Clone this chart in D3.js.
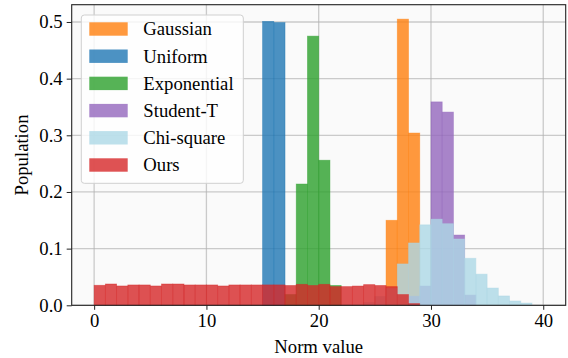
<!DOCTYPE html>
<html>
<head>
<meta charset="utf-8">
<script src="https://cdn.jsdelivr.net/npm/d3@7"></script>
<style>
  html, body { margin: 0; padding: 0; background: #fff; }
  svg { display: block; }
  svg text { font-family: "Liberation Serif", "Times New Roman", serif; }
</style>
</head>
<body>
<script>
// histogram heights per unit-width bin; each series starts at its own bin
const gaussianStart = 26;
const gaussian = [0.150, 0.505, 0.304];
const uniformStart = 15;
const uniform = [0.501, 0.499];
const exponentialStart = 17;
const exponential = [0.019, 0.214, 0.475, 0.256, 0.035];
const studentStart = 28;
const student = [0.016, 0.034, 0.359, 0.341, 0.124, 0.018];
const chiStart = 24;
const chiSquare = [0.005, 0.0155, 0.03, 0.073, 0.110, 0.142, 0.152, 0.144, 0.117, 0.083, 0.055, 0.0305, 0.0165, 0.0076, 0.004];
const oursStart = 0;
const ours = [0.0353, 0.0376, 0.0341, 0.0359, 0.0359, 0.0341, 0.0376, 0.0376, 0.0359, 0.0359,
              0.0359, 0.0341, 0.0359, 0.0359, 0.0359, 0.036, 0.036, 0.035, 0.037, 0.035,
              0.037, 0.033, 0.033, 0.034, 0.0365, 0.035, 0.033, 0.019, 0.003];

const seriesNames = ["Gaussian", "Uniform", "Exponential", "Student-T", "Chi-square", "Ours"];
const seriesColors = ["#ff7f0e", "#1f77b4", "#2ca02c", "#9467bd", "#add8e6", "#d62728"];
const xTicks = [0, 10, 20, 30, 40];
const yTicks = [0, 0.1, 0.2, 0.3, 0.4, 0.5];

document.addEventListener("DOMContentLoaded", () => {
    const width = 568;
    const height = 358;
    const left = 71.7, right = 565.7, top = 4.7, bottom = 305.3;
    const fontSize = 18.7;

    const series = [
        [gaussianStart, gaussian],
        [uniformStart, uniform],
        [exponentialStart, exponential],
        [studentStart, student],
        [chiStart, chiSquare],
        [oursStart, ours]
    ].map(([start, vals], k) => ({
        name: seriesNames[k],
        color: seriesColors[k],
        bins: vals.map((v, i) => ({ x0: start + i, x1: start + i + 1, v: v }))
    }));

    const xScale = d3.scaleLinear().domain([-2, 42]).range([left, right]);
    const yScale = d3.scaleLinear().domain([0, 0.5305]).range([bottom, top]);

    const svg = d3.select("body")
                  .append("svg")
                  .attr("width", width)
                  .attr("height", height);

    svg.append("rect")
       .attr("x", left).attr("y", top)
       .attr("width", right - left).attr("height", bottom - top)
       .attr("fill", "#fafafa");

    // grid behind bars
    const grid = svg.append("g").attr("stroke", "#b0b0b0").attr("stroke-opacity", 0.65).attr("stroke-width", 1.3);
    grid.selectAll("line.gx")
        .data(xTicks)
        .enter()
        .append("line")
        .attr("x1", d => xScale(d)).attr("x2", d => xScale(d))
        .attr("y1", top).attr("y2", bottom);
    grid.selectAll("line.gy")
        .data(yTicks)
        .enter()
        .append("line")
        .attr("y1", d => yScale(d)).attr("y2", d => yScale(d))
        .attr("x1", left).attr("x2", right);

    series.forEach(s => {
        svg.append("g")
           .selectAll("rect")
           .data(s.bins)
           .enter()
           .append("rect")
           .attr("x", d => xScale(d.x0))
           .attr("y", d => yScale(d.v))
           .attr("width", d => xScale(d.x1) - xScale(d.x0))
           .attr("height", d => yScale(0) - yScale(d.v))
           .attr("fill", s.color)
           .attr("fill-opacity", 0.8)
           .attr("stroke", s.color)
           .attr("stroke-opacity", 0.5)
           .attr("stroke-width", 0.8);
    });

    // frame
    svg.append("rect")
       .attr("x", left).attr("y", top)
       .attr("width", right - left).attr("height", bottom - top)
       .attr("fill", "none")
       .attr("stroke", "#222")
       .attr("stroke-width", 1.1);

    const xAxis = d3.axisBottom(xScale).tickValues(xTicks).tickSize(4.5).tickPadding(4).tickFormat(d3.format("d"));
    const yAxis = d3.axisLeft(yScale).tickValues(yTicks).tickSize(5).tickPadding(4).tickFormat(d3.format(".1f"));

    const gx = svg.append("g")
       .attr("id", "x-axis")
       .attr("transform", "translate(0, " + bottom + ")")
       .call(xAxis);
    const gy = svg.append("g")
       .attr("id", "y-axis")
       .attr("transform", "translate(" + left + ", 0)")
       .call(yAxis);
    [gx, gy].forEach(g => {
        g.attr("font-family", null).attr("font-size", null);
        g.select(".domain").remove();
        g.selectAll("line").attr("stroke", "#222").attr("stroke-width", 1);
        g.selectAll("text").attr("fill", "#000").style("font-size", fontSize + "px");
    });

    svg.append("text")
       .attr("x", (left + right) / 2)
       .attr("y", 353)
       .attr("text-anchor", "middle")
       .style("font-size", fontSize + "px")
       .text("Norm value");

    svg.append("text")
       .attr("transform", "translate(28," + ((top + bottom) / 2) + ") rotate(-90)")
       .attr("text-anchor", "middle")
       .style("font-size", fontSize + "px")
       .text("Population");

    // legend
    const legend = svg.append("g");
    legend.append("rect")
          .attr("x", 81.3).attr("y", 15)
          .attr("width", 162).attr("height", 168.3)
          .attr("rx", 3)
          .attr("fill", "#fff")
          .attr("fill-opacity", 0.8)
          .attr("stroke", "#d0d0d0");
    const rows = legend.selectAll("g.row")
          .data(series)
          .enter()
          .append("g")
          .attr("transform", (d, i) => "translate(0," + (29 + i * 27.2) + ")");
    rows.append("rect")
        .attr("x", 89.3).attr("y", -6.7)
        .attr("width", 38.4).attr("height", 13.4)
        .attr("fill", d => d.color)
        .attr("fill-opacity", 0.8);
    rows.append("text")
        .attr("x", 143.3)
        .attr("y", 6.3)
        .style("font-size", fontSize + "px")
        .text(d => d.name);
});
</script>
</body>
</html>
